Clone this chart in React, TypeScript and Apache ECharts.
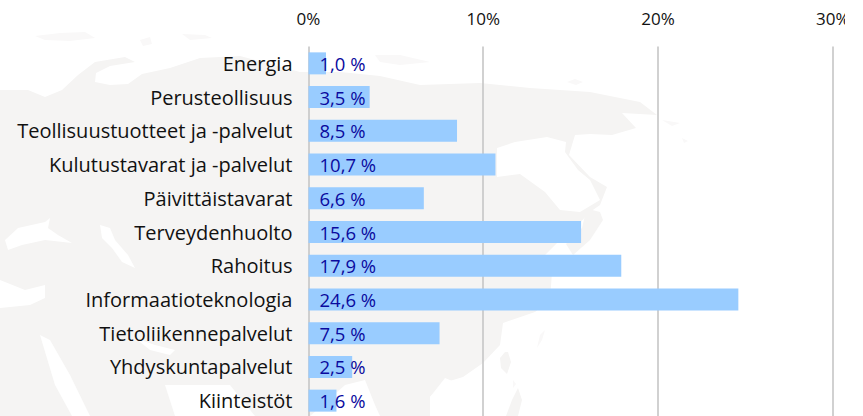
import React, { useEffect, useRef } from "react";
import * as echarts from "echarts";

const categories = ["Energia","Perusteollisuus","Teollisuustuotteet ja -palvelut","Kulutustavarat ja -palvelut","Päivittäistavarat","Terveydenhuolto","Rahoitus","Informaatioteknologia","Tietoliikennepalvelut","Yhdyskuntapalvelut","Kiinteistöt"];
const values = [1.0,3.5,8.5,10.7,6.6,15.6,17.9,24.6,7.5,2.5,1.6];
const LAND = "#f5f4f3";
const FAINT = "#f9f8f8";
const land: number[][][] = [
  [[0,90],[28,90],[45,97],[62,90],[78,75],[95,62],[125,57],[135,62],[110,66],[96,73],[95,82],[110,85],[128,84],[142,74],[170,68],[200,58],[240,56],[270,64],[300,72],[340,72],[380,76],[420,85],[480,83],[530,88],[590,92],[640,102],[657,115],[622,113],[636,128],[612,135],[590,134],[575,135],[569,155],[590,177],[607,187],[600,205],[590,212],[575,228],[560,240],[545,255],[552,272],[550,300],[535,312],[503,323],[500,345],[483,363],[463,377],[443,383],[430,397],[445,416],[0,416]],
  [[573,205],[600,212],[603,220],[590,240],[573,255],[566,244],[582,228],[585,215]],
  [[505,352],[508,352],[511,362],[507,374],[501,368],[500,358]],[[512,400],[518,388],[522,400],[518,416],[506,416]],
];
const islands: number[][][] = [
  [[35,36],[60,33],[85,32],[95,38],[70,41],[45,40]],[[140,40],[150,37],[152,44],[143,46]],[[182,34],[205,35],[212,38],[190,40]],
  [[567,82],[575,79],[583,82],[576,85]],[[662,120],[680,123],[672,126]],[[682,138],[688,141],[684,143]],
  [[513,380],[516,384],[513,388]],[[540,335],[545,330],[542,340],[537,348]],
  [[375,55],[400,55],[430,62],[400,65],[380,62]],
];
const sea: number[][][] = [
  [[497,148],[515,142],[547,137],[566,142],[565,152],[578,170],[590,180],[600,200],[580,212],[560,210],[545,192],[520,174],[497,177]],
  [[5,240],[18,228],[45,222],[50,218],[48,228],[58,235],[72,243],[45,240],[22,245],[8,250]],
  [[100,225],[110,228],[115,240],[128,255],[135,268],[122,262],[112,248],[102,238]],
  [[0,280],[25,290],[45,285],[45,298],[30,305],[0,308]],
  [[40,335],[50,340],[70,375],[90,416],[72,416],[55,385]],
  [[135,338],[155,345],[175,350],[170,355],[150,350]],
  [[165,385],[230,385],[255,416],[175,416]],
  [[310,416],[345,385],[365,380],[375,405],[380,416]],
  [[430,397],[445,378],[462,385],[455,400],[445,416],[430,416]],
];
const poly = (points: number[][], fill: string, z = -1) => ({ type: "polygon", silent: true, z, shape: { points }, style: { fill } });

export default function App() {
  const ref = useRef<HTMLDivElement>(null);
  useEffect(() => {
    const chart = echarts.init(ref.current!, null, { renderer: "svg" });
    chart.setOption({
      animation: false,
      backgroundColor: "#fff",
      textStyle: { fontFamily: "Open Sans" },
      graphic: { elements: [...land.map((p) => poly(p, LAND)), ...islands.map((p) => poly(p, FAINT)), ...sea.map((p) => poly(p, "#ffffff", -0.5))] },
      grid: { left: 308.5, right: 12.3, top: 46.5, bottom: -1.5, outerBoundsMode: "none" },
      xAxis: {
        type: "value", position: "top", min: 0, max: 30, interval: 10,
        axisLine: { show: false }, axisTick: { show: false },
        axisLabel: { formatter: "{value}%", fontSize: 17, color: "#111", margin: 20 },
        splitLine: { show: true, lineStyle: { color: "#c6c6c6", width: 1.6 } },
      },
      yAxis: {
        type: "category", inverse: true, data: categories,
        axisLine: { show: false }, axisTick: { show: false },
        axisLabel: { fontSize: 20, color: "#111", margin: 16, padding: [5, 0, 0, 0] },
      },
      series: [{
        type: "bar", data: values, barWidth: 22,
        itemStyle: { color: "#99ccff" },
        label: {
          show: true, position: "insideLeft", distance: 11, padding: [5, 0, 0, 0],
          formatter: (p: any) => p.value.toFixed(1).replace(".", ",") + " %",
          color: "#0a0a9e", fontSize: 18.5, fontFamily: "Open Sans",
        },
      }],
    });
    return () => chart.dispose();
  }, []);
  return <div ref={ref} style={{ position: "absolute", left: 0, top: 0, width: 845, height: 416 }} />;
}
